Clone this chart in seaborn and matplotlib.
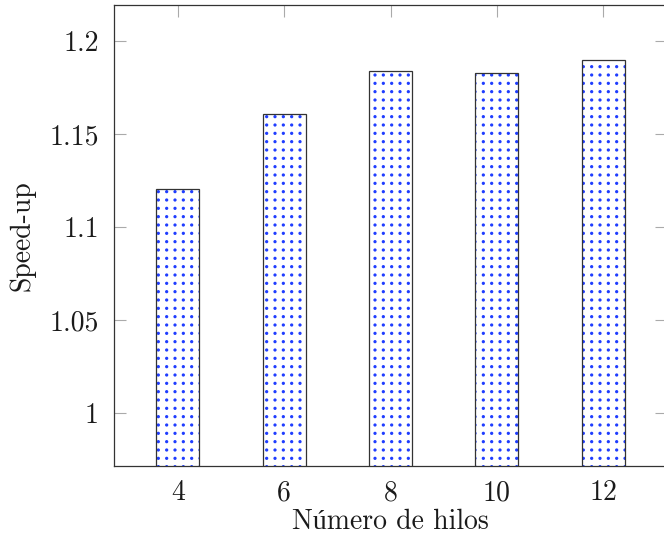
import matplotlib
matplotlib.use("Agg")
import numpy as np
import matplotlib.pyplot as plt
import matplotlib.hatch as mhatch
import matplotlib.path as mpath
import seaborn as sns
import pandas as pd

threads = ["4", "6", "8", "10", "12"]
speedup = [1.1204, 1.1607, 1.1839, 1.1828, 1.1898]
yticks = [1.0, 1.05, 1.1, 1.15, 1.2]
ytick_labels = ["1", "1.05", "1.1", "1.15", "1.2"]


# square-grid dot hatch (like pgfplots "dots" pattern) instead of staggered dots
class GridDots(mhatch.Shapes):
    size = 0.11
    filled = True

    def __init__(self, hatch, density):
        self.num_rows = hatch.count('.') * density
        p = mpath.Path.unit_circle()
        self.shape_vertices = p.vertices
        self.shape_codes = p.codes
        n = self.num_rows
        self.num_shapes = (n + 1) ** 2 if n else 0
        self.num_vertices = self.num_shapes * len(self.shape_vertices)

    def set_vertices_and_codes(self, vertices, codes):
        offset = 1.0 / self.num_rows
        sv = self.shape_vertices * offset * self.size
        nv = len(sv)
        pos = np.linspace(0, 1, self.num_rows + 1)
        cur = 0
        for yy in pos:
            for xx in pos:
                vertices[cur:cur + nv] = sv + (xx, yy)
                codes[cur:cur + nv] = self.shape_codes
                cur += nv


mhatch._hatch_types = [GridDots if t is mhatch.SmallFilledCircles else t
                       for t in mhatch._hatch_types]

sns.set_theme(style="white")
plt.rcParams["font.family"] = ["cmr10", "Liberation Serif"]
plt.rcParams["axes.formatter.use_mathtext"] = True
plt.rcParams["hatch.linewidth"] = 1.0

df = pd.DataFrame({"hilos": threads, "speedup": speedup})

fig = plt.figure(figsize=(6.64, 5.39), dpi=100)
ax = fig.add_axes([114 / 664, 73 / 539, (667 - 114) / 664, (466 - 5) / 539])

# hatched fill (blue dots)
sns.barplot(data=df, x="hilos", y="speedup", order=threads, ax=ax,
            width=0.405, color="white", edgecolor="#1f3dff", linewidth=0,
            hatch="..", errorbar=None, saturation=1)
# outline
sns.barplot(data=df, x="hilos", y="speedup", order=threads, ax=ax,
            width=0.405, fill=False, edgecolor="#333333", linewidth=0.9,
            errorbar=None)

ax.set_xlim(-0.6, 4.6)
ax.set_ylim(0.9715, 1.2194)
ax.set_yticks(yticks)
ax.set_yticklabels(ytick_labels)
ax.set_xticks(range(len(threads)))
ax.set_xticklabels(threads)

for s in ax.spines.values():
    s.set_color("#333333")
    s.set_linewidth(0.9)
    s.set_visible(True)

ax.tick_params(axis="both", which="major", direction="in", length=8.5,
               width=0.8, color="#aaaaaa", labelsize=20, pad=11,
               top=True, right=True, bottom=True, left=True,
               labelcolor="#1a1a1a")
ax.tick_params(axis="x", pad=10)
ax.set_xlabel("Número de hilos", fontsize=20, labelpad=2, color="#1a1a1a")
ax.set_ylabel("Speed-up", fontsize=20, labelpad=10, color="#1a1a1a")
ax.grid(False)

fig.savefig("out.png", dpi=100)
